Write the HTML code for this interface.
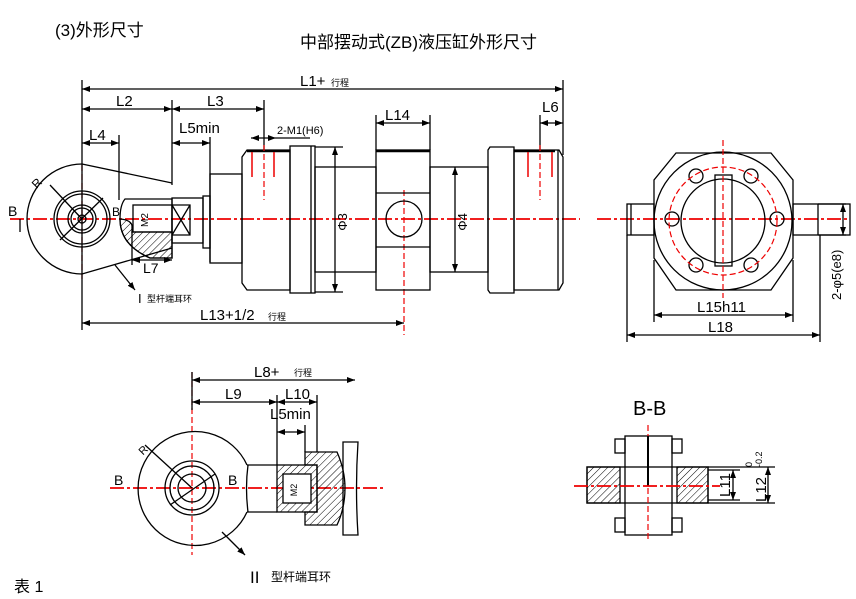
<!DOCTYPE html>
<html><head><meta charset="utf-8"><style>
html,body{margin:0;padding:0;background:#fff}
svg{display:block}
text{font-family:"Liberation Sans","Noto Sans CJK SC",sans-serif;fill:#000}
.k{stroke:#000;fill:none;stroke-width:1.3}
.t{stroke:#000;fill:none;stroke-width:2.5}
.r{stroke:#e00;fill:none;stroke-width:1.8;stroke-dasharray:14 3 3 3}
.rs{stroke:#e00;fill:none;stroke-width:1.5}
.rd{stroke:#e00;fill:none;stroke-width:1.2;stroke-dasharray:6 3}
.h{fill:url(#hat);stroke:#000;stroke-width:1.3}
</style></head><body>
<svg width="856" height="599" viewBox="0 0 856 599" xmlns="http://www.w3.org/2000/svg">
<defs>
<pattern id="hat" width="5" height="5" patternUnits="userSpaceOnUse" patternTransform="rotate(45)"><line x1="0" y1="0" x2="0" y2="5" stroke="#000" stroke-width="1"/></pattern>
<marker id="a" markerWidth="8" markerHeight="6" refX="8" refY="3" orient="auto-start-reverse" markerUnits="userSpaceOnUse"><path d="M0,0 L8,3 L0,6z" fill="#000"/></marker>
</defs>
<text x="55" y="36" font-size="17">(3)外形尺寸</text>
<text x="300" y="48" font-size="17">中部摆动式(ZB)液压缸外形尺寸</text>

<line class="r" x1="10" y1="219" x2="580" y2="219"/>
<line class="r" x1="597" y1="219" x2="850" y2="219"/>
<line class="rd" x1="82" y1="165" x2="82" y2="280"/>
<line class="rd" x1="404" y1="190" x2="404" y2="335"/>

<g class="k">
<line x1="82" y1="80" x2="82" y2="330"/>
<line x1="563" y1="80" x2="563" y2="155"/>
<line x1="82" y1="89" x2="563" y2="89" marker-start="url(#a)" marker-end="url(#a)"/>
<line x1="172" y1="100" x2="172" y2="185"/>
<line x1="264" y1="100" x2="264" y2="150"/>
<line x1="82" y1="109" x2="172" y2="109" marker-start="url(#a)" marker-end="url(#a)"/>
<line x1="172" y1="109" x2="264" y2="109" marker-start="url(#a)" marker-end="url(#a)"/>
<line x1="119" y1="135" x2="119" y2="200"/>
<line x1="82" y1="143" x2="119" y2="143" marker-start="url(#a)" marker-end="url(#a)"/>
<line x1="210" y1="137" x2="210" y2="262"/>
<line x1="172" y1="143" x2="210" y2="143" marker-start="url(#a)" marker-end="url(#a)"/>
<line x1="251" y1="138" x2="276" y2="138" marker-start="url(#a)" marker-end="url(#a)"/>
<line x1="276" y1="138" x2="310" y2="138"/>
<line x1="376" y1="115" x2="376" y2="150"/>
<line x1="430" y1="115" x2="430" y2="150"/>
<line x1="376" y1="123" x2="430" y2="123" marker-start="url(#a)" marker-end="url(#a)"/>
<line x1="540" y1="115" x2="540" y2="150"/>
<line x1="540" y1="123" x2="563" y2="123" marker-start="url(#a)" marker-end="url(#a)"/>
<line x1="82" y1="323" x2="404" y2="323" marker-start="url(#a)" marker-end="url(#a)"/>
<line x1="335" y1="147" x2="335" y2="292" marker-start="url(#a)" marker-end="url(#a)"/>
<line x1="455" y1="167" x2="455" y2="272" marker-start="url(#a)" marker-end="url(#a)"/>
</g>
<text x="300" y="86" font-size="15">L1+</text><text x="331" y="86" font-size="9">行程</text>
<text x="116" y="106" font-size="15">L2</text>
<text x="207" y="106" font-size="15">L3</text>
<text x="89" y="140" font-size="15">L4</text>
<text x="179" y="133" font-size="15">L5min</text>
<text x="277" y="134" font-size="11">2-M1(H6)</text>
<text x="385" y="120" font-size="15">L14</text>
<text x="542" y="112" font-size="15">L6</text>
<text x="200" y="320" font-size="15">L13+1/2</text><text x="268" y="320" font-size="9">行程</text>
<text transform="translate(347,222) rotate(-90)" font-size="13" text-anchor="middle">Φ3</text>
<text transform="translate(467,222) rotate(-90)" font-size="13" text-anchor="middle">Φ4</text>

<g class="k">
<path d="M82,164 A55,55 0 1,0 82,274 L172,248"/>
<path d="M82,164 L172,183"/>
<circle cx="82" cy="219" r="28"/><circle cx="82" cy="219" r="25"/>
<circle cx="82" cy="219" r="14"/><circle cx="82" cy="219" r="11"/><circle cx="82" cy="219" r="4"/>
<line x1="50" y1="185" x2="82" y2="219"/>
<line x1="60" y1="240" x2="103" y2="198"/>
<path d="M115,265 L135,290" marker-end="url(#a)"/>
<line x1="20" y1="219" x2="20" y2="232"/>
</g>
<text x="32" y="186" font-size="12" transform="rotate(-45 38 182)">R</text>
<text x="8" y="216" font-size="14">B</text>
<text x="112" y="216" font-size="12">B</text>
<text x="138" y="303" font-size="13">I</text><text x="147" y="302" font-size="9">型杆端耳环</text>
<path class="k" d="M125,199 L172,199 L172,258 L150,258 Q120,245 120,219 Q120,205 125,199z"/>
<path class="h" d="M120,219 Q135,220 132,232 L172,232 L172,258 L150,258 Q120,245 120,219z"/>
<rect class="k" x="133" y="205" width="39" height="27"/>
<g class="k"><line x1="132" y1="260" x2="172" y2="260" marker-start="url(#a)" marker-end="url(#a)"/><line x1="132" y1="225" x2="132" y2="265"/></g>
<text x="143" y="273" font-size="14">L7</text>
<text transform="translate(148,220) rotate(-90)" font-size="10" text-anchor="middle">M2</text>
<g class="k">
<rect x="172" y="198" width="31" height="45"/>
<path d="M172,205 L190,205 L190,235 L172,235 M172,205 L190,235 M190,205 L172,235"/>
<rect x="203" y="196" width="7" height="52"/>
<rect x="210" y="174" width="32" height="89"/>
<path d="M247,150 L290,150 L290,290 L247,290 L242,283 L242,157z"/>
<rect x="290" y="146" width="25" height="147"/><line x1="311" y1="146" x2="311" y2="293"/>
<line x1="315" y1="147" x2="343" y2="147"/><line x1="315" y1="292" x2="343" y2="292"/>
<rect x="315" y="167" width="61" height="105"/>
<rect x="376" y="150" width="54" height="140"/>
<line x1="376" y1="193" x2="430" y2="193"/><line x1="376" y1="247" x2="430" y2="247"/>
<circle cx="404" cy="219" r="18"/>
<rect x="430" y="167" width="58" height="105"/>
<path d="M490,147 L514,147 L514,293 L490,293 L488,290 L488,150z"/>
<path d="M514,150 L559,150 L563,157 L563,283 L559,290 L514,290z"/>
<line x1="558" y1="150" x2="558" y2="290"/>
</g>
<line class="t" x1="247" y1="151" x2="290" y2="151"/>
<line class="t" x1="376" y1="151" x2="430" y2="151"/>
<line class="t" x1="514" y1="151" x2="555" y2="151"/>
<g class="rs"><line x1="252" y1="152" x2="252" y2="177"/><line x1="274" y1="152" x2="274" y2="177"/><line x1="528" y1="152" x2="528" y2="177"/><line x1="552" y1="152" x2="552" y2="177"/></g>
<line class="rd" x1="264" y1="145" x2="264" y2="200"/>
<line class="rd" x1="540" y1="145" x2="540" y2="200"/>

<g class="k">
<path d="M676,153 L771,153 L793,180 L793,258 L771,290 L676,290 L654,258 L654,180z"/>
<circle cx="723" cy="221" r="69"/>
<circle cx="723" cy="221" r="42"/>
<rect x="715" y="175" width="17" height="91"/>
<rect x="627" y="204" width="27" height="31"/><line x1="631" y1="204" x2="631" y2="235"/>
<rect x="793" y="204" width="57" height="31"/><line x1="818" y1="204" x2="818" y2="235"/>
<circle cx="696" cy="176" r="7"/><circle cx="751" cy="176" r="7"/>
<circle cx="672" cy="219" r="7"/><circle cx="777" cy="219" r="7"/>
<circle cx="696" cy="265" r="7"/><circle cx="751" cy="265" r="7"/>
<line x1="654" y1="260" x2="654" y2="322"/><line x1="793" y1="260" x2="793" y2="322"/>
<line x1="627" y1="235" x2="627" y2="342"/><line x1="820" y1="235" x2="820" y2="342"/>
<line x1="654" y1="315" x2="793" y2="315" marker-start="url(#a)" marker-end="url(#a)"/>
<line x1="627" y1="335" x2="820" y2="335" marker-start="url(#a)" marker-end="url(#a)"/>
<line x1="818" y1="204" x2="846" y2="204"/><line x1="818" y1="235" x2="846" y2="235"/>
<line x1="843" y1="204" x2="843" y2="235" marker-start="url(#a)" marker-end="url(#a)"/>
</g>
<circle class="rd" cx="723" cy="221" r="54"/>
<line class="rd" x1="723" y1="140" x2="723" y2="298"/>
<text x="697" y="312" font-size="15">L15h11</text>
<text x="708" y="332" font-size="15">L18</text>
<text transform="translate(841,300) rotate(-90)" font-size="13">2-φ5(e8)</text>

<line class="rd" x1="192" y1="372" x2="192" y2="555"/>
<line class="r" x1="110" y1="488" x2="385" y2="488"/>
<g class="k">
<line x1="192" y1="372" x2="192" y2="410"/>
<line x1="192" y1="380" x2="355" y2="380" marker-start="url(#a)" marker-end="url(#a)"/>
<line x1="192" y1="402" x2="277" y2="402" marker-start="url(#a)" marker-end="url(#a)"/>
<line x1="277" y1="402" x2="317" y2="402" marker-start="url(#a)" marker-end="url(#a)"/>
<line x1="277" y1="432" x2="305" y2="432" marker-start="url(#a)" marker-end="url(#a)"/>
<line x1="277" y1="395" x2="277" y2="465"/><line x1="317" y1="395" x2="317" y2="452"/><line x1="305" y1="425" x2="305" y2="452"/>
<path d="M247,465 A57,57 0 1,0 247,512"/>
<circle cx="192" cy="488" r="27"/><circle cx="192" cy="488" r="22"/><circle cx="192" cy="488" r="14"/>
<line x1="145" y1="445" x2="192" y2="488"/>
<line x1="170" y1="505" x2="215" y2="474"/>
<path d="M248,465 Q245,488 248,512"/>
<line x1="247" y1="465" x2="277" y2="465"/><line x1="247" y1="512" x2="277" y2="512"/>
<path d="M222,532 L245,555" marker-end="url(#a)"/>
<path d="M343,442 L358,442 Q355,488 358,535 L343,535z"/>
</g>
<rect class="h" x="277" y="465" width="40" height="47"/>
<rect class="k" x="283" y="474" width="28" height="29" style="fill:#fff"/>
<path class="h" d="M305,452 L337,452 Q345,470 345,488 Q345,508 337,525 L305,525 L305,512 L317,512 L317,465 L305,465z"/>
<text transform="translate(297,490) rotate(-90)" font-size="9" text-anchor="middle">M2</text>
<text x="254" y="377" font-size="15">L8+</text><text x="294" y="376" font-size="9">行程</text>
<text x="225" y="399" font-size="15">L9</text>
<text x="285" y="399" font-size="15">L10</text>
<text x="270" y="419" font-size="15">L5min</text>
<text x="114" y="485" font-size="14">B</text>
<text x="228" y="485" font-size="14">B</text>
<text x="139" y="454" font-size="11" transform="rotate(-45 143 450)">R</text>
<text x="250" y="583" font-size="17">II</text><text x="271" y="581" font-size="12">型杆端耳环</text>
<text x="14" y="592" font-size="16">表 1</text>

<text x="633" y="415" font-size="20">B-B</text>
<g class="k">
<rect x="587" y="467" width="121" height="36"/>
<rect x="625" y="436" width="47" height="99"/>
<rect x="615" y="439" width="10" height="14"/><rect x="672" y="439" width="10" height="14"/>
<rect x="615" y="518" width="10" height="14"/><rect x="672" y="518" width="10" height="14"/>
<line x1="708" y1="470" x2="740" y2="470"/><line x1="708" y1="500" x2="740" y2="500"/>
<line x1="708" y1="467" x2="775" y2="467"/><line x1="708" y1="503" x2="775" y2="503"/>
<line x1="733" y1="470" x2="733" y2="500" marker-start="url(#a)" marker-end="url(#a)"/>
<line x1="768" y1="467" x2="768" y2="503" marker-start="url(#a)" marker-end="url(#a)"/>
</g>
<rect class="h" x="587" y="467" width="33" height="36"/>
<rect class="h" x="677" y="467" width="31" height="36"/>
<line class="rd" x1="648" y1="425" x2="648" y2="540"/>
<line style="stroke:#000;stroke-width:2" x1="648" y1="436" x2="648" y2="486"/>
<line class="r" x1="574" y1="486" x2="720" y2="486"/>
<text transform="translate(730,497) rotate(-90)" font-size="15">L11</text>
<text transform="translate(766,502) rotate(-90)" font-size="15">L12</text>
<text transform="translate(752,467) rotate(-90)" font-size="9">0</text>
<text transform="translate(762,467) rotate(-90)" font-size="9">-0.2</text>
</svg>
</body></html>
